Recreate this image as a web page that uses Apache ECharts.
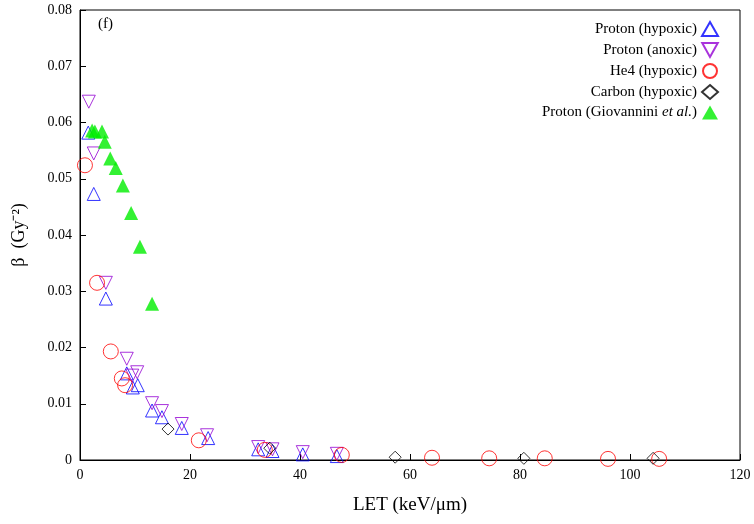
<!DOCTYPE html>
<html><head><meta charset="utf-8">
<script src="https://cdn.jsdelivr.net/npm/echarts@6/dist/echarts.min.js"></script>
<style>html,body{margin:0;background:#fff}#c{width:754px;height:524px}</style>
</head><body><div id="c"></div>
<script>
var protonHypLET = [1.5, 2.5, 4.7, 8.5, 9.6, 10.5, 13.1, 14.9, 18.5, 23.3, 32.4, 35, 40.5, 46.7];
var protonHypBeta = [0.0582, 0.0473, 0.0287, 0.0154, 0.0129, 0.0133, 0.0088, 0.0076, 0.0057, 0.0039, 0.0019, 0.0016, 0.0010, 0.0007];
var protonAnoLET = [1.6, 2.5, 4.7, 8.5, 9.5, 10.4, 13.1, 14.9, 18.5, 23.1, 32.4, 35, 40.5, 46.7];
var protonAnoBeta = [0.0637, 0.0545, 0.0315, 0.0180, 0.0150, 0.0156, 0.0101, 0.0087, 0.0064, 0.0044, 0.0023, 0.0019, 0.0014, 0.0011];
var he4LET = [0.9, 3.1, 5.6, 7.6, 8.2, 21.6, 33.6, 47.6, 64, 74.4, 84.5, 96, 105.3];
var he4Beta = [0.0524, 0.0315, 0.0193, 0.0145, 0.0133, 0.0035, 0.0018, 0.0009, 0.0004, 0.0003, 0.0003, 0.0002, 0.0002];
var carbonLET = [16, 34.5, 57.3, 80.7, 104.2];
var carbonBeta = [0.0055, 0.0021, 0.0005, 0.0003, 0.0003];
var giovLET = [2.2, 2.7, 4, 4.5, 5.5, 6.5, 7.8, 9.3, 10.9, 13.1];
var giovBeta = [0.0586, 0.0584, 0.0584, 0.0566, 0.0536, 0.0519, 0.0488, 0.0439, 0.0379, 0.0278];

function pairs(xs, ys) { return xs.map(function (x, i) { return [x, ys[i]]; }); }

var serif = 'Liberation Serif';
var downTri = 'path://M0,0L10,0L5,9Z';
var chart = echarts.init(document.getElementById('c'));
function hollow(name, xs, ys, symbol, color, size) {
  return {
    name: name, type: 'scatter', data: pairs(xs, ys), symbol: symbol,
    symbolSize: size,
    itemStyle: { color: 'rgba(255,255,255,0)', borderColor: color, borderWidth: 1 }
  };
}
chart.setOption({
  animation: false,
  grid: { left: 80, right: 14, top: 10, bottom: 64 },
  legend: {
    orient: 'vertical', right: 30, top: 16, itemGap: 5, align: 'right',
    itemWidth: 16, itemHeight: 14,
    textStyle: { fontFamily: serif, fontSize: 15, color: '#000',
      rich: { i: { fontFamily: serif, fontSize: 15, fontStyle: 'italic', color: '#000' } } },
    formatter: function (n) { return n === 'Proton (Giovannini et al.)' ? 'Proton (Giovannini {i|et al.})' : n; },
    data: ['Proton (hypoxic)', 'Proton (anoxic)', 'He4 (hypoxic)', 'Carbon (hypoxic)', 'Proton (Giovannini et al.)']
  },
  xAxis: {
    type: 'value', min: 0, max: 120, interval: 20,
    name: 'LET (keV/μm)', nameLocation: 'middle', nameGap: 36,
    nameTextStyle: { fontFamily: serif, fontSize: 19, color: '#000' },
    axisLine: { lineStyle: { color: '#000' } },
    axisTick: { inside: true, length: 6, lineStyle: { color: '#000' } },
    axisLabel: { fontFamily: serif, fontSize: 14, color: '#000' },
    splitLine: { show: false }
  },
  yAxis: {
    type: 'value', min: 0, max: 0.08, interval: 0.01,
    name: 'β  (Gy⁻²)', nameLocation: 'middle', nameGap: 52,
    nameTextStyle: { fontFamily: serif, fontSize: 18, color: '#000' },
    axisLine: { lineStyle: { color: '#000' } },
    axisTick: { inside: true, length: 6, lineStyle: { color: '#000' } },
    axisLabel: { fontFamily: serif, fontSize: 14, color: '#000',
      formatter: function (v) { return v === 0 ? '0' : v.toFixed(2); } },
    splitLine: { show: false }
  },
  graphic: [
    { type: 'rect', shape: { x: 80, y: 10, width: 660, height: 450 }, style: { fill: 'none', stroke: '#000', lineWidth: 1 } },
    { type: 'text', left: 98, top: 17, style: { text: '(f)', font: '15px "Liberation Serif"', fill: '#000' } }
  ],
  series: [
    hollow('Proton (hypoxic)', protonHypLET, protonHypBeta, 'triangle', '#0000ff', 13),
    hollow('Proton (anoxic)', protonAnoLET, protonAnoBeta, downTri, '#9400d3', 13),
    hollow('He4 (hypoxic)', he4LET, he4Beta, 'circle', '#ff0000', 15),
    hollow('Carbon (hypoxic)', carbonLET, carbonBeta, 'diamond', '#000000', 12),
    { name: 'Proton (Giovannini et al.)', type: 'scatter', data: pairs(giovLET, giovBeta),
      symbol: 'triangle', symbolSize: 14, itemStyle: { color: '#00ee00' } }
  ]
});
</script></body></html>
